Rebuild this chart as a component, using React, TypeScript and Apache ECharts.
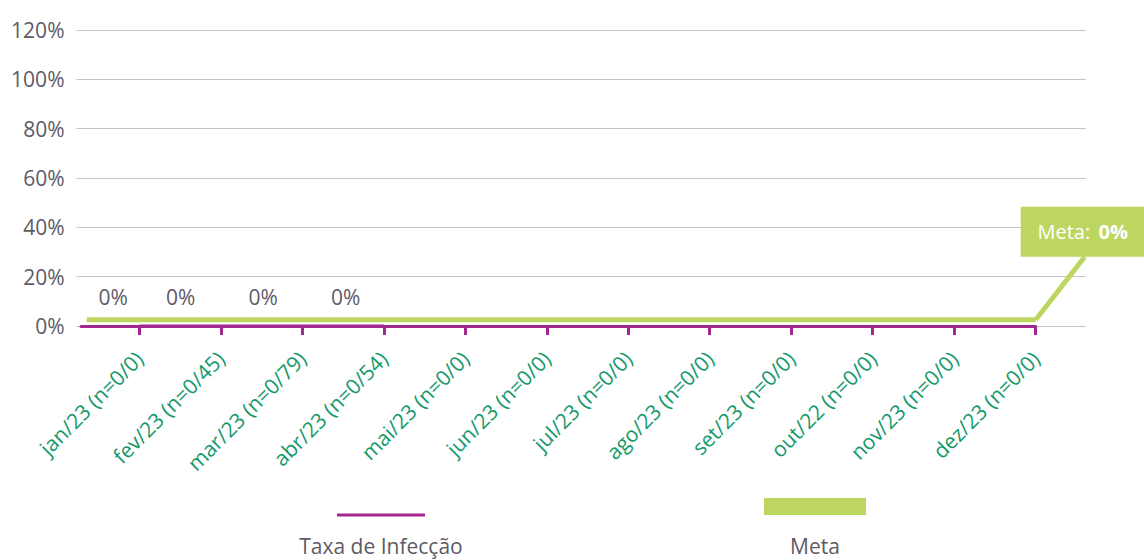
import React, { useEffect, useRef } from 'react';
import * as echarts from 'echarts';

// ---- data ----
const categories = [
  'jan/23 (n=0/0)',
  'fev/23 (n=0/45)',
  'mar/23 (n=0/79)',
  'abr/23 (n=0/54)',
  'mai/23 (n=0/0)',
  'jun/23 (n=0/0)',
  'jul/23 (n=0/0)',
  'ago/23 (n=0/0)',
  'set/23 (n=0/0)',
  'out/22 (n=0/0)',
  'nov/23 (n=0/0)',
  'dez/23 (n=0/0)',
];
const taxaValues = [0, 0, 0, 0];
const metaValues = [0, 0, 0, 0, 0, 0, 0, 0, 0, 0, 0, 0];
const yMin = 0;
const yMax = 120;
const yStep = 20;
const seriesNames = ['Taxa de Infecção', 'Meta'];
const metaLabel = { prefix: 'Meta:', value: '0%' };

// ---- styles ----
const PURPLE = '#a3288f';
const GREEN = '#bdd660';
const LABEL_GREEN = '#14996a';
const GRAY = '#5d5a66';
const FONT = '"Open Sans", "Noto Sans", sans-serif';
const X_MIN = -0.7154;
const taxaLabelShift = [-26, -40, -39, -38];

export default function App() {
  const ref = useRef<HTMLDivElement>(null);

  useEffect(() => {
    if (!ref.current) return;
    const chart = echarts.init(ref.current, undefined, { renderer: 'svg' });
    const idx = categories.map((_, i) => i);

    const option: any = {
      animation: false,
      textStyle: { fontFamily: FONT },
      grid: [
        { left: 76.5, right: 58, top: 30, bottom: 234 },
        { left: 81, right: 108.3, top: 30, bottom: 234 },
      ],
      xAxis: [
        { type: 'value', gridIndex: 0, show: false, min: 0, max: 1 },
        {
          type: 'value',
          gridIndex: 1,
          min: X_MIN,
          max: categories.length - 1,
          splitLine: { show: false },
          axisLine: { show: true, lineStyle: { color: PURPLE, width: 3 } },
          axisTick: {
            show: true,
            customValues: idx,
            length: 9,
            lineStyle: { color: PURPLE, width: 3 },
          },
          axisLabel: {
            show: true,
            customValues: idx,
            rotate: 45,
            margin: 29,
            color: LABEL_GREEN,
            fontSize: 21,
            fontFamily: FONT,
            formatter: (v: number) => categories[Math.round(v)] ?? '',
          },
        },
      ],
      yAxis: [
        {
          type: 'value',
          gridIndex: 0,
          min: yMin,
          max: yMax,
          interval: yStep,
          axisLine: { show: false },
          axisTick: { show: false },
          axisLabel: {
            formatter: '{value}%',
            color: GRAY,
            fontSize: 21,
            fontFamily: FONT,
            margin: 12,
          },
          splitLine: { lineStyle: { color: '#c4c4c4', width: 1 } },
        },
        { type: 'value', gridIndex: 1, min: yMin, max: yMax, show: false },
        { type: 'value', gridIndex: 1, min: yMin - 2.5, max: yMax - 2.5, show: false },
      ],
      series: [
        {
          name: seriesNames[1],
          type: 'line',
          xAxisIndex: 1,
          yAxisIndex: 2,
          symbol: 'none',
          z: 3,
          lineStyle: { color: GREEN, width: 5 },
          data: [[X_MIN + 0.07, metaValues[0]], ...metaValues.map((v, i) => [i, v])],
        },
        {
          name: seriesNames[0],
          type: 'line',
          xAxisIndex: 1,
          yAxisIndex: 1,
          symbol: 'circle',
          symbolSize: 1,
          showSymbol: true,
          itemStyle: { color: 'rgba(0,0,0,0)', borderWidth: 0 },
          z: 4,
          lineStyle: { color: PURPLE, width: 3 },
          label: {
            show: true,
            position: 'top',
            distance: 18,
            formatter: (p: any) => `${p.value[1]}%`,
            color: GRAY,
            opacity: 1,
            fontSize: 21,
            fontFamily: FONT,
          },
          labelLayout: (params: any) => ({
            dx: taxaLabelShift[params.dataIndex] ?? 0,
            hideOverlap: false,
          }),
          data: taxaValues.map((v, i) => [i, v]),
        },
      ],
    };
    chart.setOption(option);

    const lastI = metaValues.length - 1;
    const pt = chart.convertToPixel({ xAxisIndex: 1, yAxisIndex: 2 } as any, [lastI, metaValues[lastI]]) as number[];
    const boxX = pt[0] - 15;
    const boxY = pt[1] - 113;
    const boxW = 130;
    const boxH = 50;

    chart.setOption({
      graphic: [
        {
          type: 'line',
          shape: { x1: pt[0], y1: pt[1], x2: pt[0] + 49, y2: boxY + boxH },
          style: { stroke: GREEN, lineWidth: 5 },
          z: 10,
        },
        {
          type: 'rect',
          shape: { x: boxX, y: boxY, width: boxW, height: boxH },
          style: { fill: GREEN },
          z: 11,
        },
        {
          type: 'text',
          x: boxX + 62,
          y: boxY + boxH / 2,
          z: 12,
          style: {
            text: `{a|${metaLabel.prefix}} {b|${metaLabel.value}}`,
            align: 'center',
            verticalAlign: 'middle',
            rich: {
              a: { fill: '#ffffff', fontSize: 20, fontFamily: FONT },
              b: { fill: '#ffffff', fontSize: 20, fontWeight: 'bold', fontFamily: FONT, padding: [0, 0, 0, 5] },
            },
          },
        },
        // legend
        {
          type: 'line',
          shape: { x1: 337, y1: 515, x2: 425, y2: 515 },
          style: { stroke: PURPLE, lineWidth: 3 },
        },
        {
          type: 'text',
          x: 381,
          y: 546,
          style: {
            text: seriesNames[0],
            fill: GRAY,
            fontSize: 21,
            fontFamily: FONT,
            align: 'center',
            verticalAlign: 'middle',
          },
        },
        {
          type: 'rect',
          shape: { x: 764, y: 498, width: 102, height: 17 },
          style: { fill: GREEN },
        },
        {
          type: 'text',
          x: 815,
          y: 546,
          style: {
            text: seriesNames[1],
            fill: GRAY,
            fontSize: 21,
            fontFamily: FONT,
            align: 'center',
            verticalAlign: 'middle',
          },
        },
      ],
    });

    return () => chart.dispose();
  }, []);

  return (
    <div
      ref={ref}
      style={{ position: 'fixed', left: 0, top: 0, width: 1144, height: 560, background: '#ffffff' }}
    />
  );
}
